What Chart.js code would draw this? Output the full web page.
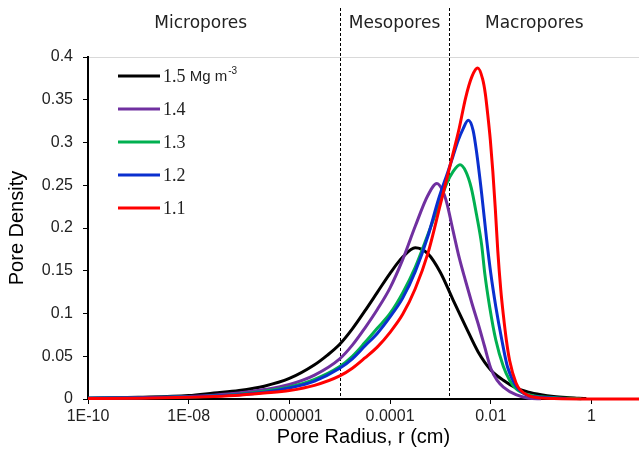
<!DOCTYPE html>
<html lang="en">
<head>
<meta charset="UTF-8">
<title>Pore Density vs Pore Radius</title>
<script src="https://cdn.jsdelivr.net/npm/chart.js"></script>
<style>
  html, body { margin: 0; padding: 0; background: #fff; }
  #wrap { width: 639px; height: 456px; }
</style>
</head>
<body>
<div id="wrap"><canvas id="pore-chart" width="639" height="456"></canvas></div>
<script>
// pore radius (cm) / pore density, one pair per bulk density
var radius15 = [1e-10, 1e-9, 1e-8, 3.16e-8, 1e-7, 3.16e-7, 1e-6, 3.16e-6, 5.62e-6, 1e-5, 1.78e-5, 3.16e-5, 5.62e-5, 1e-4, 1.78e-4, 3.16e-4, 5.62e-4, 1e-3, 1.78e-3, 3.16e-3, 5.62e-3, 0.01, 0.0178, 0.0316, 0.0562, 0.1, 0.178, 0.316, 0.562, 0.79];
var density15 = [0.001, 0.002, 0.004, 0.007, 0.010, 0.015, 0.024, 0.040, 0.051, 0.064, 0.082, 0.103, 0.125, 0.147, 0.166, 0.177, 0.170, 0.148, 0.116, 0.085, 0.055, 0.034, 0.022, 0.013, 0.008, 0.005, 0.003, 0.0018, 0.001, 0.0005];

var radius14 = [1e-10, 1e-9, 1e-8, 3.16e-8, 1e-7, 3.16e-7, 1e-6, 3.16e-6, 1e-5, 1.78e-5, 3.16e-5, 5.62e-5, 1e-4, 1.78e-4, 3.16e-4, 5.62e-4, 8.5e-4, 1.1e-3, 1.33e-3, 1.78e-3, 2.37e-3, 3.16e-3, 4.22e-3, 5.62e-3, 7.5e-3, 0.01, 0.0133, 0.0178, 0.0316, 0.0562, 0.1];
var density14 = [0.001, 0.0015, 0.003, 0.0045, 0.007, 0.011, 0.017, 0.028, 0.047, 0.063, 0.083, 0.105, 0.130, 0.163, 0.202, 0.238, 0.252, 0.244, 0.230, 0.197, 0.165, 0.138, 0.112, 0.088, 0.062, 0.036, 0.022, 0.014, 0.005, 0.001, 0.0003];

var radius13 = [1e-10, 1e-9, 1e-8, 3.16e-8, 1e-7, 3.16e-7, 1e-6, 3.16e-6, 1e-5, 1.78e-5, 3.16e-5, 5.62e-5, 1e-4, 1.78e-4, 3.16e-4, 5.62e-4, 1e-3, 1.33e-3, 1.78e-3, 2.45e-3, 3.2e-3, 4.1e-3, 5.2e-3, 6.6e-3, 7.6e-3, 9.5e-3, 0.0126, 0.0178, 0.0237, 0.0316, 0.0562, 0.1, 0.316, 0.63];
var density13 = [0.001, 0.0015, 0.0025, 0.0035, 0.0055, 0.009, 0.014, 0.023, 0.038, 0.050, 0.066, 0.083, 0.100, 0.124, 0.154, 0.192, 0.232, 0.252, 0.266, 0.274, 0.266, 0.247, 0.216, 0.180, 0.147, 0.108, 0.069, 0.038, 0.022, 0.012, 0.005, 0.0025, 0.001, 0.0003];

var radius12 = [1e-10, 1e-9, 1e-8, 3.16e-8, 1e-7, 3.16e-7, 1e-6, 3.16e-6, 1e-5, 1.78e-5, 3.16e-5, 5.62e-5, 1e-4, 1.78e-4, 3.16e-4, 5.62e-4, 9.1e-4, 1.45e-3, 1.78e-3, 2.24e-3, 2.82e-3, 3.57e-3, 4.47e-3, 5.25e-3, 6.6e-3, 8.3e-3, 0.01, 0.0126, 0.0166, 0.0214, 0.0324, 0.05, 0.1, 0.316];
var density12 = [0.001, 0.0015, 0.0025, 0.0035, 0.005, 0.008, 0.013, 0.021, 0.036, 0.047, 0.062, 0.077, 0.096, 0.118, 0.149, 0.190, 0.233, 0.268, 0.284, 0.302, 0.316, 0.326, 0.314, 0.288, 0.240, 0.186, 0.147, 0.108, 0.069, 0.038, 0.0147, 0.005, 0.002, 0.0005];

var radius11 = [1e-10, 1e-9, 1e-8, 3.16e-8, 1e-7, 3.16e-7, 1e-6, 3.16e-6, 1e-5, 1.78e-5, 3.16e-5, 5.62e-5, 1e-4, 1.78e-4, 3.16e-4, 5.62e-4, 1e-3, 1.33e-3, 1.78e-3, 2.37e-3, 3.16e-3, 4.22e-3, 5.5e-3, 6.9e-3, 7.8e-3, 8.7e-3, 9.8e-3, 0.011, 0.0123, 0.0138, 0.0158, 0.0178, 0.0204, 0.0237, 0.0316, 0.038, 0.0562, 0.1, 0.178, 1, 8.8];
var density11 = [0.0005, 0.001, 0.002, 0.003, 0.0045, 0.007, 0.010, 0.016, 0.027, 0.036, 0.048, 0.061, 0.078, 0.099, 0.129, 0.170, 0.228, 0.257, 0.287, 0.317, 0.352, 0.377, 0.387, 0.374, 0.357, 0.333, 0.303, 0.266, 0.223, 0.173, 0.128, 0.098, 0.069, 0.045, 0.019, 0.011, 0.004, 0.0012, 0.0005, 0, 0];

var seriesNames = ['1.5', '1.4', '1.3', '1.2', '1.1'];
var seriesColors = ['#000000', '#7030a0', '#00b050', '#0a2fcf', '#ff0000'];

var xTickValues = [1e-10, 1e-8, 1e-6, 1e-4, 1e-2, 1];
var xTickLabels = ['1E-10', '1E-08', '0.000001', '0.0001', '0.01', '1'];
var yTickValues = [0, 0.05, 0.1, 0.15, 0.2, 0.25, 0.3, 0.35, 0.4];
var yTickLabels = ['0', '0.05', '0.1', '0.15', '0.2', '0.25', '0.3', '0.35', '0.4'];

// class limits (cm) and their names
var zoneBounds = [1e-5, 1.5e-3];
var zoneNames = ['Micropores', 'Mesopores', 'Macropores'];

function pairs(xs, ys) {
    var out = [];
    for (var i = 0; i < xs.length; i++) out.push({x: xs[i], y: ys[i]});
    return out;
}

var allRadius = [radius15, radius14, radius13, radius12, radius11];
var allDensity = [density15, density14, density13, density12, density11];
var datasets = [];
// first dataset is drawn on top, so put 1.1 first
for (var i = allRadius.length - 1; i >= 0; i--) {
    datasets.push({
        label: seriesNames[i],
        data: pairs(allRadius[i], allDensity[i]),
        borderColor: seriesColors[i],
        borderWidth: 3,
        pointRadius: 0,
        fill: false,
        cubicInterpolationMode: 'monotone',
        clip: false
    });
}

var zonePlugin = {
    id: 'zones',
    beforeDatasetsDraw: function(chart) {
        var ctx = chart.ctx, xs = chart.scales.x, bottom = chart.chartArea.bottom;
        ctx.save();
        ctx.strokeStyle = '#000';
        ctx.lineWidth = 1;
        ctx.setLineDash([3, 2]);
        zoneBounds.forEach(function(b) {
            var px = Math.round(xs.getPixelForValue(b)) + 0.5;
            ctx.beginPath();
            ctx.moveTo(px, 8);
            ctx.lineTo(px, bottom);
            ctx.stroke();
        });
        ctx.restore();
    },
    afterDraw: function(chart) {
        var ctx = chart.ctx;
        var b0 = chart.scales.x.getPixelForValue(zoneBounds[0]);
        var b1 = chart.scales.x.getPixelForValue(zoneBounds[1]);
        var centers = [b0 - 139, (b0 + b1) / 2, b1 + 85];
        ctx.save();
        ctx.fillStyle = '#222';
        ctx.font = '17px "DejaVu Sans"';
        ctx.textAlign = 'center';
        ctx.textBaseline = 'middle';
        zoneNames.forEach(function(n, k) { ctx.fillText(n, centers[k], 24); });

        // legend in the upper left of the plot
        ctx.textAlign = 'left';
        for (var k = 0; k < seriesNames.length; k++) {
            var y = 76 + k * 33;
            ctx.strokeStyle = seriesColors[k];
            ctx.lineWidth = 3;
            ctx.beginPath();
            ctx.moveTo(118, y);
            ctx.lineTo(160, y);
            ctx.stroke();
            ctx.fillStyle = '#222';
            ctx.font = '18px "Liberation Serif"';
            ctx.fillText(seriesNames[k], 163, y + 1);
            if (k === 0) {
                var w = ctx.measureText(seriesNames[k]).width;
                ctx.font = '15px "Liberation Sans"';
                ctx.fillText(' Mg m', 163 + w, y + 1);
                var w2 = ctx.measureText(' Mg m').width;
                ctx.font = '10px "Liberation Sans"';
                ctx.fillText('-3', 163 + w + w2 + 1, y - 5);
            }
        }
        ctx.restore();
    }
};

var ctx = document.getElementById('pore-chart').getContext('2d');
new Chart(ctx, {
    type: 'line',
    data: { datasets: datasets },
    options: {
        responsive: false,
        animation: false,
        devicePixelRatio: 1,
        layout: { padding: { top: 57, right: 0, bottom: 0, left: 0 } },
        plugins: { legend: { display: false }, tooltip: { enabled: false } },
        scales: {
            x: {
                type: 'logarithmic',
                min: 1e-10,
                max: 8.8,
                afterBuildTicks: function(s) { s.ticks = xTickValues.map(function(v) { return {value: v}; }); },
                afterFit: function(s) { s.height = 57; },
                ticks: {
                    autoSkip: false,
                    maxRotation: 0,
                    padding: 3,
                    color: '#222',
                    font: { family: '"Liberation Sans", Arial', size: 16 },
                    callback: function(v, idx) { return xTickLabels[idx]; }
                },
                grid: { drawOnChartArea: false, color: '#000', tickLength: 5 },
                border: { color: '#000', width: 2 },
                title: {
                    display: true,
                    text: 'Pore Radius, r (cm)',
                    color: '#000',
                    font: { family: '"Liberation Sans", Arial', size: 20 },
                    padding: { top: 0, bottom: 7 }
                }
            },
            y: {
                min: 0,
                max: 0.4,
                afterBuildTicks: function(s) { s.ticks = yTickValues.map(function(v) { return {value: v}; }); },
                afterFit: function(s) { s.width = 88; },
                ticks: {
                    padding: 10,
                    color: '#222',
                    font: { family: '"Liberation Sans", Arial', size: 16 },
                    callback: function(v, idx) { return yTickLabels[idx]; }
                },
                grid: {
                    tickLength: 5,
                    tickColor: '#000',
                    color: function(c) { return c.tick && c.tick.value === 0.4 ? '#d9d9d9' : 'rgba(0,0,0,0)'; }
                },
                border: { color: '#000', width: 2 },
                title: {
                    display: true,
                    text: 'Pore Density',
                    color: '#000',
                    font: { family: '"Liberation Sans", Arial', size: 20 },
                    padding: { top: 5, bottom: 0 }
                }
            }
        }
    },
    plugins: [zonePlugin]
});
</script>
</body>
</html>
